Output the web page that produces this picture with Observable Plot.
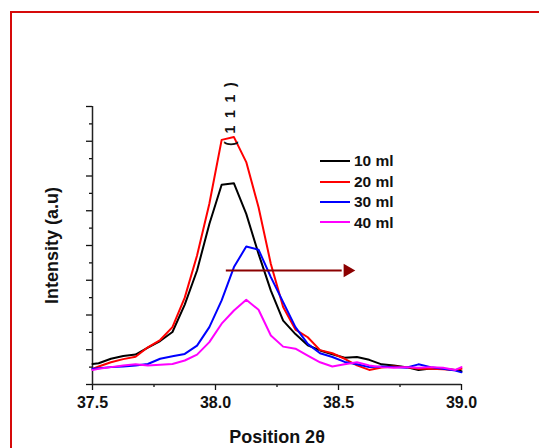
<!DOCTYPE html>
<html>
<head>
<meta charset="utf-8">
<script src="https://cdn.jsdelivr.net/npm/d3@7"></script>
<script src="https://cdn.jsdelivr.net/npm/@observablehq/plot@0.6"></script>
<style>
html, body { margin: 0; padding: 0; background: #fff; overflow: hidden; }
#wrap { position: relative; width: 539px; height: 448px; overflow: hidden; background: #fff;
  font-family: "Liberation Sans", Arial, sans-serif; }
#border { position: absolute; left: 10px; top: 11px; width: 620px; height: 560px;
  border: 2px solid #d60a0a; box-sizing: border-box; }
#chart { position: absolute; left: 0; top: 0; }
#legend { position: absolute; left: 320px; top: 151px; }
.row { position: relative; height: 20.4px; display: flex; align-items: center; }
.sw { width: 30px; height: 2px; margin-right: 4px; }
.lab { font-size: 15.5px; font-weight: bold; color: #111; line-height: 1; }
</style>
</head>
<body>
<div id="wrap">
  <div id="border"></div>
  <div id="chart"></div>
  <div id="legend"></div>
</div>
<script>
// 2θ positions (shared by all series)
const positions = [37.500, 37.525, 37.575, 37.625, 37.675, 37.725, 37.775, 37.825, 37.875, 37.925,
  37.975, 38.025, 38.075, 38.125, 38.175, 38.225, 38.275, 38.325, 38.375, 38.425,
  38.475, 38.525, 38.575, 38.625, 38.675, 38.725, 38.775, 38.825, 38.875, 38.925,
  38.975, 39.000];

const ml10 = [0.59, 0.61, 0.74, 0.82, 0.86, 1.06, 1.25, 1.51, 2.30, 3.28,
  4.62, 5.75, 5.79, 4.91, 3.76, 2.70, 1.84, 1.45, 1.13, 0.98,
  0.87, 0.77, 0.79, 0.71, 0.58, 0.55, 0.50, 0.42, 0.46, 0.45,
  0.42, 0.38];
const ml20 = [0.45, 0.52, 0.64, 0.73, 0.80, 1.07, 1.28, 1.65, 2.50, 3.71,
  5.20, 7.04, 7.12, 6.40, 5.10, 3.47, 2.23, 1.58, 1.36, 0.99,
  0.90, 0.74, 0.55, 0.42, 0.49, 0.52, 0.50, 0.45, 0.45, 0.44,
  0.42, 0.45];
const ml30 = [0.45, 0.47, 0.50, 0.52, 0.55, 0.59, 0.74, 0.81, 0.88, 1.12,
  1.65, 2.42, 3.38, 3.97, 3.88, 3.09, 2.37, 1.65, 1.17, 0.90,
  0.79, 0.65, 0.58, 0.50, 0.52, 0.50, 0.48, 0.58, 0.50, 0.45,
  0.40, 0.35];
const ml40 = [0.42, 0.45, 0.50, 0.55, 0.58, 0.55, 0.57, 0.59, 0.69, 0.86,
  1.22, 1.75, 2.13, 2.44, 2.15, 1.41, 1.09, 1.03, 0.83, 0.64,
  0.52, 0.58, 0.64, 0.55, 0.50, 0.48, 0.50, 0.48, 0.50, 0.48,
  0.42, 0.50];

const seriesNames = ["10 ml", "20 ml", "30 ml", "40 ml"];
const seriesColors = ["#000000", "#ff0000", "#0000ff", "#ff00ff"];
const seriesValues = [ml10, ml20, ml30, ml40];

const xTicks = [37.5, 38.0, 38.5, 39.0];
const xMinorTicks = [37.75, 38.25, 38.75];
const yTicks = [0, 1, 2, 3, 4, 5, 6, 7, 8];
const yMinorTicks = [0.5, 1.5, 2.5, 3.5, 4.5, 5.5, 6.5, 7.5];

const peakLabel = [{x: 38.061, y: 7.78, text: "(\u00a0\u00a01\u00a0\u00a01\u00a0\u00a01\u00a0\u00a0)"}];
const shiftArrow = [{x1: 38.044, x2: 38.515, y: 3.28, tip: 38.557}];

const xTitle = "Position 2θ";
const yTitle = "Intensity (a.u)";

const rows = seriesNames.flatMap((name, s) =>
  positions.map((x, i) => ({x, y: seriesValues[s][i], series: name})));

const chart = Plot.plot({
  width: 539,
  height: 448,
  marginLeft: 92,
  marginRight: 78,
  marginTop: 106,
  marginBottom: 64,
  style: {fontFamily: "'Liberation Sans', Arial, sans-serif", color: "#111", background: "transparent"},
  x: {domain: [37.5, 39.0]},
  y: {domain: [0, 8]},
  color: {domain: seriesNames, range: seriesColors},
  marks: [
    Plot.axisX(xTicks, {tickSize: 6, tickPadding: 6, tickFormat: d3.format(".1f"), fontSize: 16, fontWeight: "bold", label: null, strokeWidth: 1.3}),
    Plot.axisX(xMinorTicks, {tickSize: 3, tickFormat: () => "", label: null, strokeWidth: 1.3}),
    Plot.axisY(yTicks, {tickSize: 6, tickFormat: () => "", label: null, strokeWidth: 1.3}),
    Plot.axisY(yMinorTicks, {tickSize: 3, tickFormat: () => "", label: null, strokeWidth: 1.3}),
    Plot.ruleX([37.5], {stroke: "#222", strokeWidth: 1.5}),
    Plot.ruleY([0], {stroke: "#222", strokeWidth: 1.5}),
    Plot.line(rows, {x: "x", y: "y", z: "series", stroke: "series", strokeWidth: 2, curve: "linear"}),
    Plot.ruleY(shiftArrow, {x1: "x1", x2: "x2", y: "y", stroke: "#8b0000", strokeWidth: 2}),
    Plot.dot(shiftArrow, {x: "tip", y: "y", symbol: "triangle", rotate: 90, r: 5, dx: -5, fill: "#8b0000", stroke: "none"}),
    Plot.text(peakLabel, {x: "x", y: "y", text: "text", rotate: -90, fontSize: 14, fontWeight: "bold", fill: "#111"}),
    Plot.text([xTitle], {frameAnchor: "bottom", dy: 58, lineAnchor: "bottom", fontSize: 18, fontWeight: "bold", fill: "#111"}),
    Plot.text([yTitle], {frameAnchor: "left", textAnchor: "middle", dx: -40, rotate: -90, fontSize: 18, fontWeight: "bold", fill: "#111"})
  ]
});
document.getElementById("chart").appendChild(chart);

const legend = document.getElementById("legend");
seriesNames.forEach((name, i) => {
  const row = document.createElement("div");
  row.className = "row";
  const sw = document.createElement("div");
  sw.className = "sw";
  sw.style.background = seriesColors[i];
  const lab = document.createElement("span");
  lab.className = "lab";
  lab.textContent = name;
  row.appendChild(sw);
  row.appendChild(lab);
  legend.appendChild(row);
});
</script>
</body>
</html>
